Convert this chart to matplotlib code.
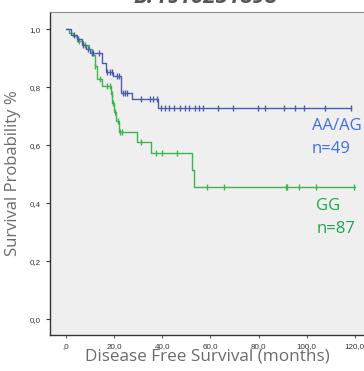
import matplotlib
matplotlib.use("Agg")
import matplotlib.pyplot as plt
from matplotlib.ticker import FuncFormatter

# ---- data ----
# AA/AG group: step times and survival after each step
blue_times = [0.0, 2.0, 4.5, 6.5, 8.5, 10.0, 14.8, 16.5, 19.6, 22.8, 27.3, 38.3, 118.2]
blue_surv = [1.0, 0.98, 0.965, 0.945, 0.93, 0.916, 0.883, 0.853, 0.839, 0.778, 0.758, 0.729, 0.729]
blue_cens_t = [3.5, 5.0, 7.0, 9.0, 10.8, 11.3, 13.8, 17.0, 18.3, 19.1, 21.2, 22.0,
               23.8, 24.5, 25.3, 31.0, 34.9, 36.1, 37.8,
               39.7, 41.1, 42.8, 44.9, 47.3, 49.4, 51.1, 53.6, 55.4, 57.0,
               63.0, 69.5, 79.9, 82.7, 90.7, 95.1, 98.8, 107.7, 118.2]

# GG group
green_times = [0.5, 1.5, 3.0, 4.5, 7.0, 9.5, 11.0, 12.0, 12.2, 12.8, 15.0, 18.6, 19.2,
               20.0, 21.0, 21.9, 29.6, 35.2, 52.2, 53.2, 120.0]
green_surv = [1.0, 0.985, 0.975, 0.96, 0.945, 0.93, 0.91, 0.893, 0.872, 0.828, 0.805,
              0.775, 0.746, 0.715, 0.683, 0.646, 0.609, 0.571, 0.514, 0.454, 0.454]
green_cens_t = [5.5, 8.0, 12.3, 14.0, 16.9, 18.3, 19.0, 19.4, 20.6, 21.6, 22.4, 23.3,
                31.4, 37.6, 40.0, 46.0, 58.8, 65.6, 91.3, 91.8, 96.8, 104.0, 119.6]

x_ticks = [0, 20, 40, 60, 80, 100, 120]
y_ticks = [0.0, 0.2, 0.4, 0.6, 0.8, 1.0]

BLUE_LINE = "#4a5cab"
GREEN_LINE = "#3db54e"
BLUE_TXT = "#3f6fe6"
GREEN_TXT = "#1aa84e"


def surv_at(times, surv, t):
    s = surv[0]
    for ti, si in zip(times, surv):
        if ti <= t:
            s = si
        else:
            break
    return s


fig = plt.figure(figsize=(3.64, 3.71), dpi=100)
ax = fig.add_axes([0.137, 0.097, 0.863, 0.8707])
ax.set_facecolor("#efefef")

ax.step(blue_times, blue_surv, where="post", color=BLUE_LINE, lw=1.0, zorder=3)
ax.step(green_times, green_surv, where="post", color=GREEN_LINE, lw=1.0, zorder=2)
ax.plot(blue_cens_t, [surv_at(blue_times, blue_surv, t) for t in blue_cens_t],
        ls="none", marker="|", ms=4.5, mew=1.0, color=BLUE_LINE, zorder=3)
ax.plot(green_cens_t, [surv_at(green_times, green_surv, t) for t in green_cens_t],
        ls="none", marker="|", ms=4.5, mew=1.0, color=GREEN_LINE, zorder=2)

ax.set_xlim(-6.64, 123.8)
ax.set_ylim(-0.055, 1.059)
ax.set_xticks(x_ticks)
ax.set_yticks(y_ticks)


def xfmt(v, pos):
    s = f"{v:.1f}".replace(".", ",")
    return s[1:] if s.startswith("0,") else s


ax.xaxis.set_major_formatter(FuncFormatter(xfmt))
ax.yaxis.set_major_formatter(FuncFormatter(lambda v, p: f"{v:.1f}".replace(".", ",")))
ax.tick_params(axis="both", labelsize=5.8, colors="#333333", labelcolor="#333333")
ax.tick_params(axis="y", length=3, width=0.8)
ax.tick_params(axis="x", length=2, width=0.6)
for lab in ax.get_xticklabels() + ax.get_yticklabels():
    lab.set_family("Liberation Sans")

ax.spines["right"].set_visible(False)
ax.spines["top"].set_color("#8a8a8a")
ax.spines["left"].set_color("#333333")
ax.spines["bottom"].set_color("#333333")
ax.spines["left"].set_linewidth(1.0)
ax.spines["bottom"].set_linewidth(1.0)

ax.set_xlabel("Disease Free Survival (months)", fontsize=12.3, color="#6b6b6b",
              family="Open Sans", labelpad=-0.5)
ax.set_ylabel("Survival Probability %", fontsize=12, color="#6b6b6b",
              family="Open Sans", labelpad=6)

ax.text(102, 0.665, "AA/AG", color=BLUE_TXT, fontsize=12, family="Open Sans", va="center")
ax.text(102, 0.585, "n=49", color=BLUE_TXT, fontsize=12, family="Open Sans", va="center")
ax.text(104, 0.39, "GG", color=GREEN_TXT, fontsize=12, family="Open Sans", va="center")
ax.text(104, 0.31, "n=87", color=GREEN_TXT, fontsize=12, family="Open Sans", va="center")

fig.text(0.565, 1.0 + 0.006, "B. rs10251898", fontsize=16, fontweight="bold",
         fontstyle="italic", color="#555555", ha="center", va="center", family="Open Sans")

fig.savefig("out.png", dpi=100, facecolor="white")
